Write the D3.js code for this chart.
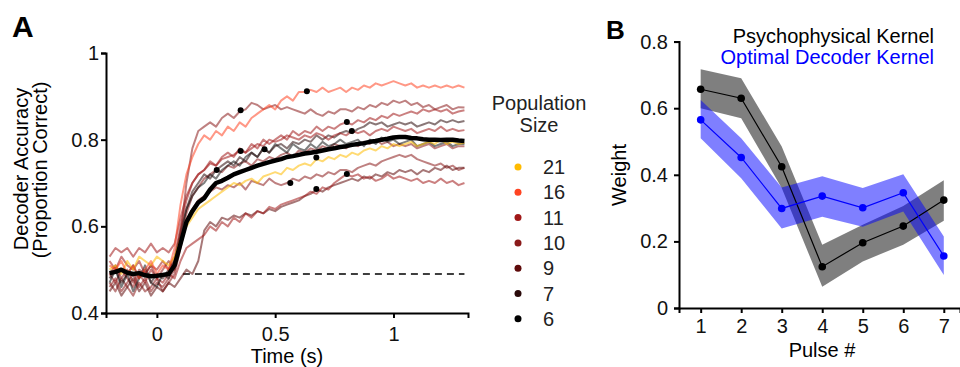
<!DOCTYPE html>
<html>
<head>
<meta charset="utf-8">
<script src="https://cdn.jsdelivr.net/npm/d3@7"></script>
<style>
body { margin: 0; background: #fff; }
svg { font-family: "Liberation Sans", Arial, sans-serif; }
.axis path, .axis line { stroke: #000; stroke-width: 2; }
.axis text { font-size: 20px; fill: #111; }
</style>
</head>
<body>
<div id="chart"></div>
<script>
// ---- panel A data ----
const times = [
  -0.2,-0.175,-0.15,-0.125,-0.1,-0.075,-0.05,-0.025,0,0.025,
  0.05,0.075,0.1,0.125,0.15,0.175,0.2,0.225,0.25,0.275,
  0.3,0.325,0.35,0.375,0.4,0.425,0.45,0.475,0.5,0.525,
  0.55,0.575,0.6,0.625,0.65,0.675,0.7,0.725,0.75,0.775,
  0.8,0.825,0.85,0.875,0.9,0.925,0.95,0.975,1,1.025,
  1.05,1.075,1.1,1.125,1.15,1.175,1.2,1.225,1.25,1.275,1.3
];

const popSizes = [21, 16, 11, 10, 9, 7, 6];

const acc16a = [
  0.51,0.50,0.52,0.49,0.51,0.48,0.50,0.52,0.49,0.51,
  0.50,0.55,0.65,0.72,0.76,0.79,0.81,0.80,0.82,0.81,
  0.83,0.82,0.84,0.83,0.85,0.86,0.87,0.88,0.87,0.89,
  0.90,0.89,0.91,0.91,0.915,0.91,0.92,0.91,0.915,0.92,
  0.91,0.92,0.915,0.925,0.92,0.93,0.925,0.93,0.935,0.93,
  0.925,0.93,0.92,0.925,0.92,0.925,0.92,0.925,0.92,0.925,0.92
];
const acc10a = [
  0.49,0.51,0.48,0.50,0.47,0.50,0.49,0.51,0.48,0.50,
  0.52,0.50,0.58,0.70,0.78,0.82,0.83,0.84,0.83,0.85,
  0.86,0.85,0.865,0.87,0.885,0.88,0.87,0.875,0.88,0.87,
  0.875,0.87,0.865,0.86,0.87,0.86,0.855,0.865,0.86,0.87,
  0.87,0.865,0.875,0.87,0.88,0.875,0.885,0.88,0.89,0.885,
  0.89,0.88,0.885,0.875,0.88,0.87,0.875,0.88,0.87,0.875,0.874
];
const acc11a = [
  0.52,0.50,0.53,0.51,0.50,0.52,0.49,0.51,0.50,0.52,
  0.50,0.53,0.60,0.66,0.70,0.72,0.73,0.75,0.74,0.76,
  0.77,0.76,0.78,0.77,0.79,0.78,0.80,0.79,0.80,0.81,
  0.80,0.82,0.81,0.82,0.815,0.83,0.82,0.83,0.825,0.835,
  0.84,0.835,0.845,0.84,0.85,0.845,0.855,0.85,0.86,0.855,
  0.86,0.865,0.86,0.87,0.865,0.87,0.865,0.87,0.86,0.865,0.868
];
const acc7a = [
  0.48,0.50,0.47,0.49,0.51,0.48,0.50,0.47,0.49,0.48,
  0.50,0.52,0.58,0.64,0.68,0.70,0.72,0.71,0.73,0.74,
  0.75,0.74,0.76,0.75,0.77,0.76,0.78,0.77,0.785,0.79,
  0.78,0.795,0.79,0.80,0.795,0.81,0.80,0.81,0.805,0.815,
  0.82,0.815,0.825,0.83,0.84,0.835,0.84,0.83,0.835,0.84,
  0.835,0.84,0.83,0.835,0.84,0.835,0.845,0.84,0.845,0.84,0.843
];
const acc11b = [
  0.53,0.55,0.54,0.55,0.53,0.55,0.54,0.56,0.54,0.55,
  0.54,0.56,0.62,0.67,0.70,0.72,0.73,0.745,0.74,0.755,
  0.76,0.765,0.775,0.77,0.78,0.79,0.785,0.80,0.795,0.80,
  0.81,0.805,0.80,0.81,0.805,0.815,0.81,0.80,0.81,0.815,
  0.81,0.82,0.815,0.82,0.81,0.82,0.825,0.82,0.83,0.825,
  0.82,0.825,0.815,0.82,0.825,0.82,0.83,0.82,0.825,0.82,0.822
];
const acc6a = [
  0.47,0.50,0.46,0.49,0.45,0.48,0.51,0.47,0.46,0.49,
  0.48,0.52,0.59,0.64,0.67,0.69,0.70,0.72,0.71,0.73,
  0.74,0.75,0.74,0.76,0.77,0.76,0.78,0.77,0.79,0.78,
  0.77,0.79,0.78,0.775,0.79,0.78,0.795,0.785,0.79,0.80,
  0.79,0.795,0.80,0.785,0.80,0.79,0.805,0.795,0.80,0.79,
  0.795,0.80,0.785,0.79,0.795,0.785,0.79,0.795,0.785,0.79,0.79
];
const acc21a = [
  0.50,0.51,0.49,0.52,0.50,0.53,0.52,0.51,0.53,0.52,
  0.51,0.53,0.57,0.60,0.62,0.64,0.65,0.66,0.67,0.68,
  0.69,0.70,0.695,0.705,0.71,0.70,0.715,0.72,0.725,0.72,
  0.735,0.73,0.74,0.745,0.74,0.755,0.75,0.76,0.755,0.765,
  0.76,0.77,0.765,0.775,0.78,0.775,0.785,0.78,0.79,0.785,
  0.79,0.795,0.785,0.79,0.795,0.79,0.80,0.79,0.795,0.79,0.793
];
const acc10b = [
  0.46,0.48,0.45,0.47,0.49,0.46,0.48,0.45,0.47,0.46,
  0.48,0.50,0.57,0.63,0.67,0.69,0.71,0.72,0.73,0.725,
  0.74,0.735,0.745,0.75,0.74,0.755,0.75,0.76,0.755,0.765,
  0.77,0.76,0.775,0.77,0.78,0.775,0.785,0.78,0.79,0.785,
  0.78,0.79,0.785,0.795,0.79,0.80,0.79,0.795,0.785,0.79,
  0.785,0.79,0.78,0.785,0.79,0.78,0.785,0.79,0.78,0.785,0.785
];
const acc10c = [
  0.47,0.45,0.48,0.46,0.44,0.47,0.45,0.46,0.48,0.45,
  0.47,0.49,0.55,0.61,0.64,0.66,0.67,0.68,0.69,0.685,
  0.695,0.69,0.70,0.685,0.705,0.70,0.695,0.71,0.70,0.695,
  0.70,0.71,0.705,0.715,0.71,0.72,0.715,0.725,0.72,0.73,
  0.73,0.725,0.735,0.74,0.745,0.74,0.75,0.755,0.76,0.765,
  0.76,0.765,0.755,0.75,0.745,0.74,0.745,0.735,0.74,0.73,0.735
];
const acc9a = [
  0.45,0.47,0.44,0.46,0.48,0.45,0.47,0.44,0.46,0.45,
  0.47,0.46,0.48,0.50,0.49,0.52,0.59,0.61,0.60,0.62,
  0.615,0.625,0.62,0.63,0.625,0.635,0.63,0.64,0.635,0.645,
  0.65,0.655,0.66,0.67,0.675,0.685,0.68,0.69,0.695,0.70,
  0.705,0.71,0.705,0.715,0.71,0.72,0.715,0.725,0.72,0.73,
  0.725,0.73,0.72,0.73,0.725,0.735,0.73,0.74,0.73,0.735,0.735
];
const acc11c = [
  0.49,0.47,0.50,0.48,0.46,0.49,0.47,0.50,0.48,0.47,
  0.49,0.48,0.52,0.55,0.56,0.57,0.58,0.60,0.59,0.61,
  0.60,0.62,0.61,0.63,0.62,0.635,0.63,0.645,0.64,0.65,
  0.655,0.66,0.665,0.67,0.68,0.675,0.69,0.685,0.70,0.71,
  0.72,0.715,0.72,0.71,0.715,0.705,0.71,0.72,0.71,0.715,
  0.71,0.705,0.71,0.70,0.705,0.70,0.71,0.70,0.705,0.695,0.70
];
// thick black trace
const accMean = [
  0.492,0.495,0.50,0.493,0.49,0.492,0.487,0.485,0.486,0.488,
  0.49,0.51,0.56,0.61,0.635,0.655,0.665,0.685,0.70,0.705,
  0.712,0.72,0.725,0.73,0.735,0.74,0.744,0.748,0.752,0.755,
  0.76,0.762,0.765,0.768,0.77,0.772,0.775,0.778,0.78,0.783,
  0.785,0.788,0.79,0.792,0.795,0.797,0.80,0.802,0.805,0.806,
  0.806,0.804,0.803,0.801,0.80,0.80,0.799,0.80,0.80,0.798,0.797
];

const traces = [
  {pop: 10, acc: acc10c}, {pop: 9, acc: acc9a}, {pop: 11, acc: acc11c},
  {pop: 10, acc: acc10b}, {pop: 6, acc: acc6a}, {pop: 7, acc: acc7a},
  {pop: 11, acc: acc11b}, {pop: 11, acc: acc11a}, {pop: 10, acc: acc10a},
  {pop: 21, acc: acc21a}, {pop: 16, acc: acc16a}
];

// black markers on the traces (time, accuracy)
const markerTimes = [0.354, 0.634, 0.354, 0.455, 0.253, 0.674, 0.803, 0.824, 0.564, 0.674, 0.803];
const markerAcc   = [0.868, 0.912, 0.774, 0.778, 0.730, 0.759, 0.841, 0.820, 0.700, 0.686, 0.721];

const chanceLevel = 0.49;
const chanceFrom = 0.11;

const timeTicks = [0, 0.5, 1];
const timeTickLabels = ['0', '0.5', '1'];
const accTicks = [0.4, 0.6, 0.8, 1];
const accTickLabels = ['0.4', '0.6', '0.8', '1'];

// ---- panel B data ----
const pulses = [1, 2, 3, 4, 5, 6, 7];
const psychKernel = [0.657, 0.630, 0.424, 0.124, 0.196, 0.246, 0.324];
const psychLow    = [0.600, 0.570, 0.360, 0.064, 0.140, 0.190, 0.262];
const psychHigh   = [0.717, 0.690, 0.485, 0.190, 0.250, 0.306, 0.384];
const optKernel   = [0.565, 0.452, 0.299, 0.336, 0.301, 0.346, 0.156];
const optLow      = [0.510, 0.390, 0.239, 0.274, 0.244, 0.290, 0.099];
const optHigh     = [0.625, 0.510, 0.362, 0.396, 0.360, 0.402, 0.215];
const weightTicks = [0, 0.2, 0.4, 0.6, 0.8];
const weightTickLabels = ['0', '0.2', '0.4', '0.6', '0.8'];

// colours for each population size
const popColor = {21: '#ffbb00', 16: '#ff4422', 11: '#a01818', 10: '#8a1a1a', 9: '#5e0a0a', 7: '#2a0a0a', 6: '#000000'};

const svg = d3.select('#chart').append('svg')
  .attr('width', 960)
  .attr('height', 367);

// ================= Panel A =================
const xA = d3.scaleLinear().domain([-0.215, 1.315]).range([106, 468]);
const yA = d3.scaleLinear().domain([0.4, 1]).range([313, 53]);

const lineA = d3.line()
  .x((d, i) => xA(times[i]))
  .y(d => yA(d));

const gA = svg.append('g');

gA.append('line')
  .attr('x1', xA(chanceFrom)).attr('x2', xA(1.3))
  .attr('y1', yA(chanceLevel)).attr('y2', yA(chanceLevel))
  .attr('stroke', '#000')
  .attr('stroke-width', 1.5)
  .attr('stroke-dasharray', '7,5');

gA.append('g').selectAll('path')
  .data(traces)
  .enter()
  .append('path')
  .attr('d', d => lineA(d.acc))
  .attr('fill', 'none')
  .attr('stroke', d => popColor[d.pop])
  .attr('stroke-opacity', d => d.pop == 6 ? 0.5 : 0.55)
  .attr('stroke-width', 2)
  .attr('stroke-linejoin', 'round');

gA.append('path')
  .attr('d', lineA(accMean))
  .attr('fill', 'none')
  .attr('stroke', '#000')
  .attr('stroke-width', 4.5)
  .attr('stroke-linejoin', 'round');

gA.append('g').selectAll('circle')
  .data(markerTimes)
  .enter()
  .append('circle')
  .attr('cx', d => xA(d))
  .attr('cy', (d, i) => yA(markerAcc[i]))
  .attr('r', 3)
  .attr('fill', '#000');

gA.append('g')
  .attr('class', 'axis')
  .attr('transform', 'translate(106,0)')
  .call(d3.axisLeft(yA).tickValues(accTicks).tickFormat((d, i) => accTickLabels[i]).tickSizeOuter(0).tickSize(5).tickPadding(2));

gA.append('g')
  .attr('class', 'axis')
  .attr('transform', 'translate(0,313)')
  .call(d3.axisBottom(xA).tickValues(timeTicks).tickFormat((d, i) => timeTickLabels[i]).tickSizeOuter(0).tickSize(5).tickPadding(9));

gA.append('text')
  .attr('x', 287).attr('y', 363)
  .attr('text-anchor', 'middle')
  .attr('font-size', 20)
  .text('Time (s)');

gA.append('text')
  .attr('transform', 'translate(28,169) rotate(-90)')
  .attr('text-anchor', 'middle')
  .attr('font-size', 20)
  .text('Decoder Accuracy');
gA.append('text')
  .attr('transform', 'translate(47,170) rotate(-90)')
  .attr('text-anchor', 'middle')
  .attr('font-size', 20)
  .text('(Proportion Correct)');

svg.append('text')
  .attr('x', 12).attr('y', 37)
  .attr('font-size', 30)
  .attr('font-weight', 'bold')
  .text('A');

// legend
const leg = svg.append('g');
leg.append('text')
  .attr('x', 539).attr('y', 110)
  .attr('text-anchor', 'middle')
  .attr('font-size', 20)
  .attr('fill', '#222')
  .text('Population');
leg.append('text')
  .attr('x', 539).attr('y', 132)
  .attr('text-anchor', 'middle')
  .attr('font-size', 20)
  .attr('fill', '#222')
  .text('Size');

const legItems = leg.selectAll('g.item')
  .data(popSizes)
  .enter()
  .append('g')
  .attr('class', 'item')
  .attr('transform', (d, i) => 'translate(0,' + (167 + i * 25.3) + ')');
legItems.append('circle')
  .attr('cx', 518).attr('cy', 0)
  .attr('r', 3.5)
  .attr('fill', d => popColor[d]);
legItems.append('text')
  .attr('x', 543).attr('y', 7)
  .attr('font-size', 20)
  .attr('fill', '#222')
  .text(d => d);

// ================= Panel B =================
const xB = d3.scaleLinear().domain([0.465, 7.4]).range([679, 960]);
const yB = d3.scaleLinear().domain([0, 0.8]).range([308, 41.6]);

const gB = svg.append('g');

const band = (lo, hi) => d3.area()
  .x((d, i) => xB(pulses[i]))
  .y0((d, i) => yB(lo[i]))
  .y1((d, i) => yB(hi[i]))(pulses);

gB.append('path')
  .attr('d', band(psychLow, psychHigh))
  .attr('fill', '#000')
  .attr('fill-opacity', 0.5);
gB.append('path')
  .attr('d', band(optLow, optHigh))
  .attr('fill', '#0000ff')
  .attr('fill-opacity', 0.5);

const lineB = d3.line()
  .x((d, i) => xB(pulses[i]))
  .y(d => yB(d));

[[psychKernel, '#000'], [optKernel, '#0000ff']].forEach(([vals, col]) => {
  gB.append('path')
    .attr('d', lineB(vals))
    .attr('fill', 'none')
    .attr('stroke', col)
    .attr('stroke-width', 1.2);
  gB.append('g').selectAll('circle')
    .data(vals)
    .enter()
    .append('circle')
    .attr('cx', (d, i) => xB(pulses[i]))
    .attr('cy', d => yB(d))
    .attr('r', 3.8)
    .attr('fill', col);
});

gB.append('g')
  .attr('class', 'axis')
  .attr('transform', 'translate(679,0)')
  .call(d3.axisLeft(yB).tickValues(weightTicks).tickFormat((d, i) => weightTickLabels[i]).tickSizeOuter(0).tickSize(5).tickPadding(6));

gB.append('g')
  .attr('class', 'axis')
  .attr('transform', 'translate(0,308)')
  .call(d3.axisBottom(xB).tickValues(pulses).tickFormat(d => d).tickSizeOuter(0).tickSize(5).tickPadding(6));

gB.append('text')
  .attr('x', 822).attr('y', 357)
  .attr('text-anchor', 'middle')
  .attr('font-size', 20)
  .text('Pulse #');

gB.append('text')
  .attr('transform', 'translate(626,175) rotate(-90)')
  .attr('text-anchor', 'middle')
  .attr('font-size', 20)
  .text('Weight');

gB.append('text')
  .attr('x', 934).attr('y', 43)
  .attr('text-anchor', 'end')
  .attr('font-size', 20)
  .attr('fill', '#000')
  .text('Psychophysical Kernel');
gB.append('text')
  .attr('x', 934).attr('y', 64)
  .attr('text-anchor', 'end')
  .attr('font-size', 20)
  .attr('fill', '#0000ff')
  .text('Optimal Decoder Kernel');

svg.append('text')
  .attr('x', 606).attr('y', 39)
  .attr('font-size', 26)
  .attr('font-weight', 'bold')
  .text('B');
</script>
</body>
</html>
